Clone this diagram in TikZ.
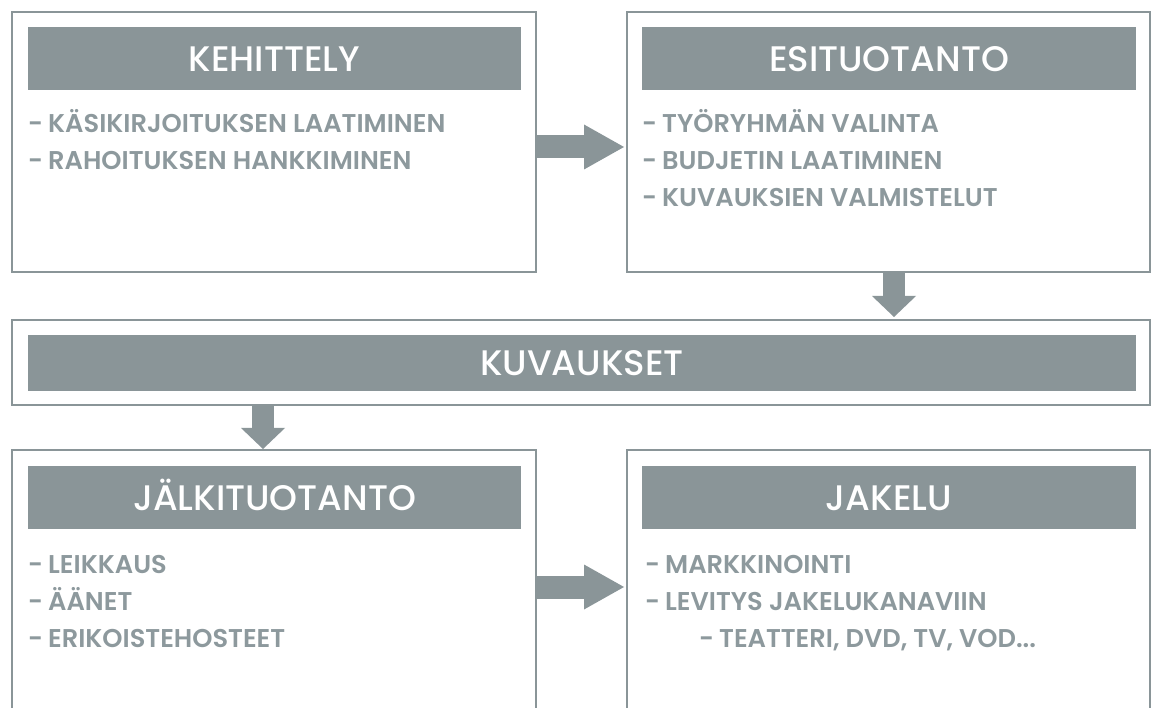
\documentclass[tikz,border=0pt]{standalone}
\usepackage{fontspec}
\setmainfont{Poppins}[BoldFont={Poppins SemiBold}]
\newfontfamily\headfont{Poppins Medium}
\newcommand\itemdash{-\kern5pt}
\usetikzlibrary{arrows.meta}
\definecolor{barc}{HTML}{8A9598}
\definecolor{txtc}{HTML}{8D999D}
\begin{document}
\begin{tikzpicture}[x=1pt,y=-1pt,
  outer/.style={draw=barc, line width=2pt, rectangle, inner sep=0pt, outer sep=0pt},
  hbar/.style={fill=barc, rectangle, inner sep=0pt, outer sep=0pt, text=white,
    font=\headfont\fontsize{35.5}{42}\selectfont, text height=25.5pt, text depth=0pt},
  item/.style={anchor=base west, inner sep=0pt, text=txtc, font=\fontsize{25.7}{30}\selectfont\bfseries},
  flow/.style={draw=barc, line width=23pt, -{Triangle[length=40pt,width=45pt,line width=0pt]}},
  down/.style={draw=barc, line width=22pt, -{Triangle[length=21pt,width=44pt,line width=0pt]}}]
\useasboundingbox (0,0) rectangle (1152,708);
\clip (0,0) rectangle (1152,708);
% boxes
\node[outer, minimum width=524, minimum height=260] (keh) at (274,142) {};
\node[outer, minimum width=523, minimum height=260] (esi) at (888.5,142) {};
\node[outer, minimum width=1138, minimum height=85] (kuv) at (581,362.5) {};
\node[outer, minimum width=524, minimum height=280] (jal) at (274,590) {};
\node[outer, minimum width=523, minimum height=280] (jak) at (888.5,590) {};
% header bars
\node[hbar, minimum width=493, minimum height=63] (kehh) at (274.5,58.5) {KEHITTELY};
\node[hbar, minimum width=494, minimum height=63] (esih) at (889,58.5) {ESITUOTANTO};
\node[hbar, minimum width=1108, minimum height=56] (kuvh) at (582,363) {KUVAUKSET};
\node[hbar, minimum width=493, minimum height=63] (jalh) at (274.5,497.5) {JÄLKITUOTANTO};
\node[hbar, minimum width=494, minimum height=63] (jakh) at (889,497.5) {JAKELU};
% items
\node[item] (k1) at (28,133) {\itemdash KÄSIKIRJOITUKSEN LAATIMINEN};
\node[item] (k2) at (28,170) {\itemdash RAHOITUKSEN HANKKIMINEN};
\node[item] (e1) at (642,133) {\itemdash TYÖRYHMÄN VALINTA};
\node[item] (e2) at (642,170) {\itemdash BUDJETIN LAATIMINEN};
\node[item] (e3) at (642,207) {\itemdash KUVAUKSIEN VALMISTELUT};
\node[item] (j1) at (28,573) {\itemdash LEIKKAUS};
\node[item] (j2) at (28,610) {\itemdash ÄÄNET};
\node[item] (j3) at (28,647) {\itemdash ERIKOISTEHOSTEET};
\node[item] (a1) at (645,573) {\itemdash MARKKINOINTI};
\node[item] (a2) at (645,610) {\itemdash LEVITYS JAKELUKANAVIIN};
\node[item] (a3) at (699,647) {\itemdash TEATTERI, DVD, TV, VOD...};
% arrows
\draw[flow, shorten >=3pt] (keh.east |- 0,147) -- (esi.west |- 0,147);
\draw[flow, shorten >=3pt] (jal.east |- 0,587) -- (jak.west |- 0,587);
\draw[down, shorten >=3pt] (esi.south -| 894,0) -- (kuv.north -| 894,0);
\draw[down, shorten >=1pt] (kuv.south -| 263,0) -- (jal.north -| 263,0);
\end{tikzpicture}
\end{document}
